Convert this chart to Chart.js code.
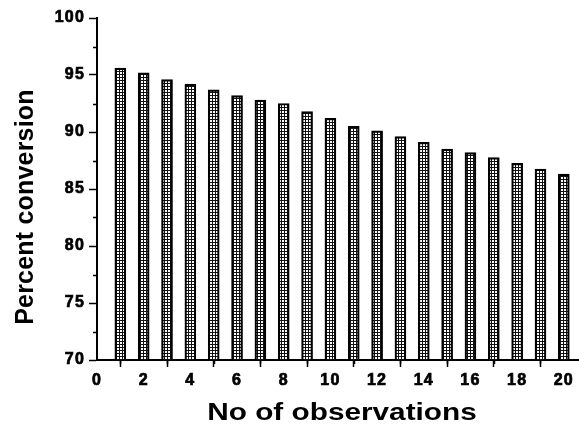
<!DOCTYPE html>
<html>
<head>
<meta charset="utf-8">
<script src="https://cdn.jsdelivr.net/npm/chart.js@4/dist/chart.umd.min.js"></script>
<style>
  html, body { margin: 0; padding: 0; background: #fff; }
  #wrap { width: 579px; height: 424px; }
</style>
</head>
<body>
<div id="wrap"><canvas id="c" width="579" height="424"></canvas></div>
<script>
// ---- data ----
const observations = [1, 2, 3, 4, 5, 6, 7, 8, 9, 10, 11, 12, 13, 14, 15, 16, 17, 18, 19, 20];
const percentConversion = [95.6, 95.2, 94.6, 94.2, 93.7, 93.2, 92.8, 92.5, 91.8, 91.2,
                           90.5, 90.1, 89.6, 89.1, 88.5, 88.2, 87.75, 87.25, 86.75, 86.3];
const xMinorTicks = [1, 3, 5, 7, 9, 11, 13, 15, 17, 19];
const yMinorTicks = [72.5, 77.5, 82.5, 87.5, 92.5, 97.5];
const xTitle = 'No of observations';
const yTitle = 'Percent conversion';

const FONT = '"Liberation Sans", Arial, Helvetica, sans-serif';

// crosshatch fill pattern
const pc = document.createElement('canvas');
pc.width = 3; pc.height = 3;
const pctx = pc.getContext('2d');
pctx.fillStyle = '#111111';
pctx.fillRect(0, 0, 3, 3);
pctx.fillStyle = '#ffffff';
pctx.fillRect(0, 0, 2, 2);
const ctx = document.getElementById('c').getContext('2d');
const hatch = ctx.createPattern(pc, 'repeat');

const extras = {
  id: 'extras',
  beforeDraw(chart) {
    chart.ctx.letterSpacing = '1.2px';
  },
  afterDraw(chart) {
    const c = chart.ctx;
    const xs = chart.scales.x, ys = chart.scales.y;
    c.save();
    c.letterSpacing = '0px';
    c.strokeStyle = '#000';
    c.lineWidth = 1.5;
    c.beginPath();
    const axY = chart.chartArea.bottom;
    const axX = chart.chartArea.left;
    xMinorTicks.forEach(v => {
      const px = Math.round(xs.getPixelForValue(v)) + 0.5;
      c.moveTo(px, axY); c.lineTo(px, axY + 4);
    });
    yMinorTicks.forEach(v => {
      const py = Math.round(ys.getPixelForValue(v)) + 0.5;
      c.moveTo(axX, py); c.lineTo(axX - 4, py);
    });
    c.stroke();

    // axis titles (glyphs horizontally widened like the reference)
    c.fillStyle = '#000';
    c.textAlign = 'center';
    c.textBaseline = 'alphabetic';

    c.save();
    c.translate(342, 420);
    c.scale(1.24, 1);
    c.font = 'bold 24px ' + FONT;
    c.fillText(xTitle, 0, 0);
    c.restore();

    c.save();
    c.translate(33, 207);
    c.rotate(-Math.PI / 2);
    c.font = 'bold 25px ' + FONT;
    c.letterSpacing = '0.2px';
    c.fillText(yTitle, 0, 0);
    c.restore();
    c.restore();
  }
};

new Chart(ctx, {
  type: 'bar',
  data: {
    datasets: [{
      data: observations.map((x, i) => ({ x: x, y: percentConversion[i] })),
      backgroundColor: hatch,
      borderColor: '#000',
      borderWidth: 2.2,
      borderSkipped: false,
      barThickness: 11
    }]
  },
  options: {
    responsive: false,
    animation: false,
    layout: { padding: { top: 18, right: 0, left: 0, bottom: 0 } },
    plugins: {
      legend: { display: false },
      tooltip: { enabled: false },
      title: { display: false }
    },
    scales: {
      x: {
        type: 'linear',
        min: 0,
        max: 20.65,
        offset: false,
        afterFit(scale) { scale.height = 64; },
        border: { display: true, color: '#000', width: 2 },
        grid: {
          display: true,
          drawOnChartArea: false,
          drawTicks: true,
          tickLength: 7,
          tickColor: '#000',
          tickWidth: 1.5
        },
        ticks: {
          stepSize: 2,
          includeBounds: false,
          autoSkip: false,
          maxRotation: 0,
          padding: 4,
          color: '#000',
          textStrokeColor: '#000',
          textStrokeWidth: 0.7,
          font: { family: FONT, size: 16, weight: 'bold' }
        }
      },
      y: {
        min: 70,
        max: 100,
        afterFit(scale) { scale.width = 97; },
        border: { display: true, color: '#000', width: 2 },
        grid: {
          display: true,
          drawOnChartArea: false,
          drawTicks: true,
          tickLength: 8,
          tickColor: '#000',
          tickWidth: 1.5
        },
        ticks: {
          stepSize: 5,
          padding: 4,
          color: '#000',
          textStrokeColor: '#000',
          textStrokeWidth: 0.7,
          font: { family: FONT, size: 16, weight: 'bold' }
        }
      }
    }
  },
  plugins: [extras]
});
</script>
</body>
</html>
